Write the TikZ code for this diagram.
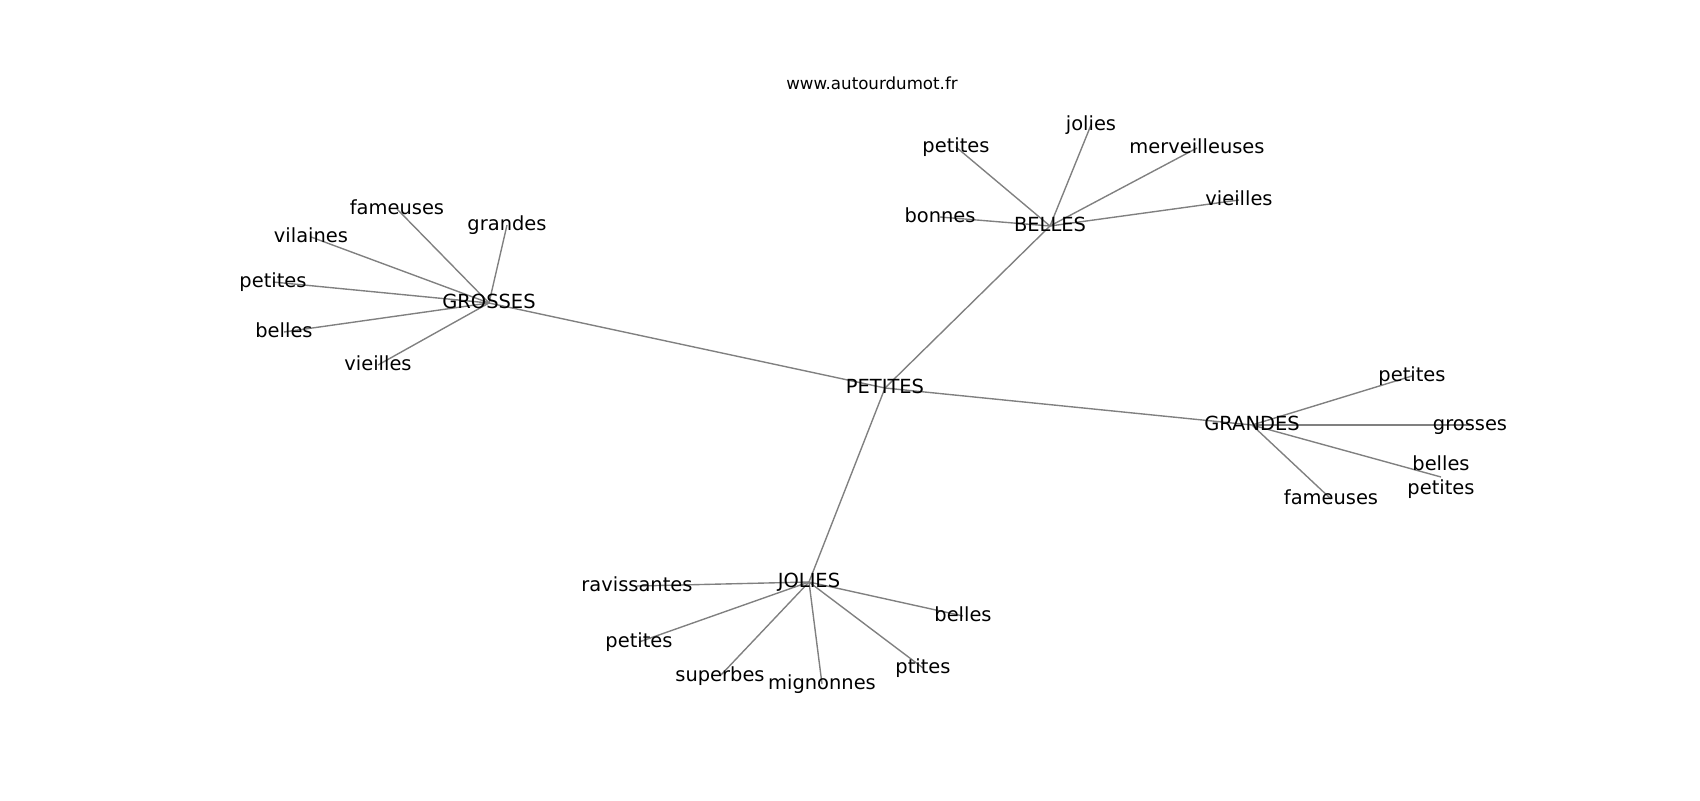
\documentclass[tikz,border=0pt]{standalone}
\usepackage{fontspec}
\setmainfont{DejaVu Sans}
\usetikzlibrary{backgrounds}

\tikzset{
  word/.style={inner sep=0pt,text height=0.8em,text depth=0pt,
               font=\fontsize{14}{16.8}\selectfont},
  link/.style={draw=black!50,line width=1pt}
}

\begin{document}
\begin{tikzpicture}[x=0.72pt,y=-0.72pt]
            \useasboundingbox (0,0) rectangle (1700,800);
            \node[font=\fontsize{12}{14}\selectfont] (title) at (872,83) {www.autourdumot.fr};

            \node[word] (pet) at (885,388) {PETITES};
            % grosses
            \node[word] (gro) at (489,303) {GROSSES};
            \node[word] (gro-1) at (397,209) {fameuses};
            \node[word] (gro-2) at (311,237) {vilaines};
            \node[word] (gro-3) at (273,282) {petites};
            \node[word] (gro-4) at (284,332) {belles};
            \node[word] (gro-5) at (378,365) {vieilles};
            \node[word] (gro-6) at (507,225) {grandes};
            % belles
            \node[word] (bel) at (1050,226) {BELLES};
            \node[word] (bel-1) at (956,147) {petites};
            \node[word] (bel-2) at (1091,125) {jolies};
            \node[word] (bel-3) at (1197,148) {merveilleuses};
            \node[word] (bel-4) at (1239,200) {vieilles};
            \node[word] (bel-5) at (940,217) {bonnes};
            % grandes
            \node[word] (gra) at (1252,425) {GRANDES};
            \node[word] (gra-1) at (1412,376) {petites};
            \node[word] (gra-2) at (1470,425) {grosses};
            \node[word,align=center,text height=,text depth=] (gra-3) at (1441,477) {belles\\petites};
            \node[word] (gra-4) at (1331,499) {fameuses};
            % jolies
            \node[word] (jol) at (809,582) {JOLIES};
            \node[word] (jol-1) at (637,586) {ravissantes};
            \node[word] (jol-2) at (639,642) {petites};
            \node[word] (jol-3) at (720,676) {superbes};
            \node[word] (jol-4) at (822,684) {mignonnes};
            \node[word] (jol-5) at (923,668) {ptites};
            \node[word] (jol-6) at (963,616) {belles};

            \begin{scope}[on background layer]
              \foreach \hub in {gro,bel,gra,jol}
                \draw[link] (pet.center) -- (\hub.center);
              \foreach \i in {1,...,6}
                \draw[link] (gro.center) -- (gro-\i.center);
              \foreach \i in {1,...,5}
                \draw[link] (bel.center) -- (bel-\i.center);
              \foreach \i in {1,...,4}
                \draw[link] (gra.center) -- (gra-\i.center);
              \foreach \i in {1,...,6}
                \draw[link] (jol.center) -- (jol-\i.center);
            \end{scope}
\end{tikzpicture}
\end{document}
